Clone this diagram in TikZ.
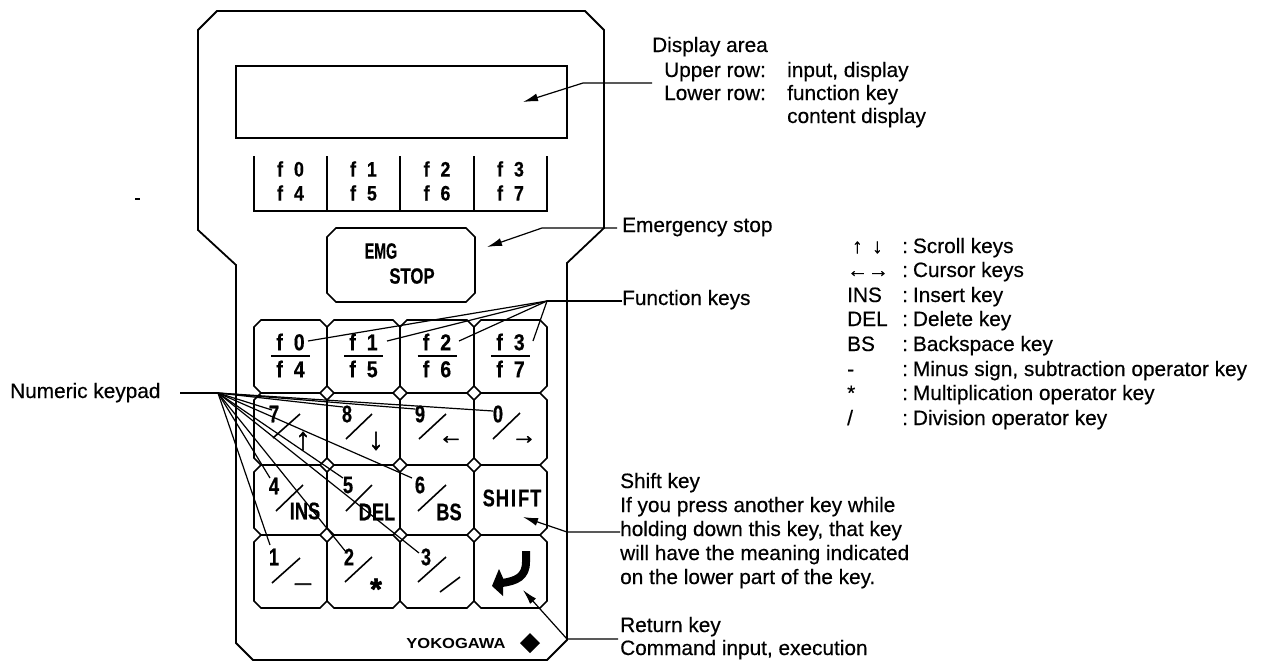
\documentclass[tikz,border=0pt]{standalone}
\usepackage{fontspec}
\setmainfont[FakeBold=0.4]{Liberation Sans}
\newfontfamily\keyfont[FakeStretch=0.76,FakeBold=0.5]{Liberation Sans Bold}
\newfontfamily\softfont[FakeStretch=0.85,FakeBold=0.5]{Liberation Sans Bold}
\newfontfamily\plainbold[FakeBold=2]{Liberation Sans Bold}
\newfontfamily\logofont[FakeStretch=1.14]{Liberation Sans Bold}
\usetikzlibrary{arrows.meta}
\newcommand{\chamferbox}[5]{\draw[keyline] (#1+#5,#2) -- (#3-#5,#2) -- (#3,#2+#5) -- (#3,#4-#5) -- (#3-#5,#4) -- (#1+#5,#4) -- (#1,#4-#5) -- (#1,#2+#5) -- cycle;}
\tikzset{
  x=1pt,y=-1pt,
  body/.style={line width=1.8pt,line join=miter},
  keyline/.style={line width=1.7pt},
  softtxt/.style={font=\softfont\fontsize{21}{21}\selectfont,inner sep=0pt},
  keytxt/.style={font=\keyfont\fontsize{24}{24}\selectfont,inner sep=0pt},
  arrowtxt/.style={font=\plainbold\fontsize{25}{25}\selectfont,inner sep=0pt},
  lbl/.style={font=\fontsize{20.8}{20.8}\selectfont,anchor=west,inner sep=0pt,text height=15pt,text depth=5pt},
  keyslash/.style={line width=1.6pt},
  leader/.style={line width=1.2pt},
  pointer/.style={line width=1.2pt,-{Latex[length=15pt,width=8pt]}},
}
\begin{document}
\begin{tikzpicture}
\useasboundingbox (0,0) rectangle (1262,662);
\fill[white] (0,0) rectangle (1262,662);
% housing
\draw[body] (217,11) -- (585,11) -- (604,30) -- (604,228) -- (567,263) -- (567,640) -- (547,660) -- (253,660) -- (236,643) -- (236,265) -- (198,230) -- (198,30) -- cycle;
\draw[keyline] (236,66) rectangle (567,138);
% soft key strip
\draw[keyline] (254,156) -- (254,211) -- (547,211) -- (547,156);
\foreach \x in {327,400,474} \draw[keyline] (\x,156) -- (\x,211);
\foreach \x/\a/\b/\n in {290.5/0/4/a,363.5/1/5/b,437/2/6/c,510.5/3/7/d}{
  \node[softtxt] (soft\n t) at (\x,169) {f\hspace{11pt}\a};
  \node[softtxt] (soft\n b) at (\x,193) {f\hspace{11pt}\b};
  \node[softtxt,font=\softfont\fontsize{23}{23}\selectfont] (fkey\n t) at (\x,342) {f\hspace{11pt}\a};
  \node[softtxt,font=\softfont\fontsize{23}{23}\selectfont] (fkey\n b) at (\x,369) {f\hspace{11pt}\b};
  \draw[keyline] (\x-19.5,356) -- (\x+19.5,356);
}
% emergency stop
\chamferbox{327}{228}{475}{302}{9}
\node[keytxt,font=\keyfont\fontsize{22}{22}\selectfont,xscale=0.85] (emgtxt) at (381,251) {EMG};
\node[keytxt,font=\keyfont\fontsize{22}{22}\selectfont] (stoptxt) at (412,276) {STOP};
% keys
\foreach \xa/\xb in {254/327,327/400,400/474,474/547}{
  \foreach \ya/\yb in {320/393,393/465,465/535,535/608}{
    \chamferbox{\xa}{\ya}{\xb}{\yb}{7}
  }
}
% digits and key legends
\foreach \x/\y/\t/\n in {274/414/7/d7,347/414/8/d8,420/414/9/d9,498/414/0/d0,274/486/4/d4,348/485/5/d5,420/485/6/d6,274/557/1/d1,349/557/2/d2,426/557/3/d3}{
  \node[keytxt] (\n) at (\x,\y) {\t};
}
\foreach \xa/\ya/\xb/\yb in {273/438/300/414,346/439/372/414,419/439/446/414,493/439/520/413,276/511/303/485,346/511/372/485,418/511/446/485,272/583/300/558,345/582/372/557,418/582/446/557,440/592/460/577}{
  \draw[keyslash] (\xa,\ya) -- (\xb,\yb);
}
\node[arrowtxt,font=\plainbold\fontsize{31}{31}\selectfont] (upk) at (303,441) {↑};
\node[arrowtxt,font=\plainbold\fontsize{31}{31}\selectfont] (downk) at (376,441) {↓};
\node[arrowtxt] (leftk) at (451,440) {←};
\node[arrowtxt] (rightk) at (524,440) {→};
\node[keytxt] (ins) at (305,511) {INS};
\node[keytxt] (del) at (377,512) {DEL};
\node[keytxt] (bs) at (449,512) {BS};
\node[keytxt] (shift) at (512,498) {S\hspace{1pt}H\hspace{2pt}I\hspace{2pt}F\hspace{1pt}T};
\node[arrowtxt,font=\plainbold\fontsize{28}{28}\selectfont] (minus) at (303,583) {\_};
\node[arrowtxt,font=\plainbold\fontsize{30}{30}\selectfont] (star) at (376,589) {*};
% return symbol
\draw[line width=8pt] (526,551) -- (526,562) .. controls (526,577) and (516,581) .. (502,583);
\fill (492,586) -- (499,569) -- (503,578) -- (503,588) -- (503,596) -- cycle;
% logo
\node[font=\logofont\fontsize{14.5}{14.5}\selectfont,inner sep=0pt] (logo) at (456,643) {YOKOGAWA};
\fill (530,633) -- (540,643) -- (530,653) -- (520,643) -- cycle;
% leaders
\node[lbl] (numeric) at (10,393) {Numeric keypad};
\coordinate (nstart) at (180,393);
\coordinate (nhub) at (218,393);
\draw[leader] (nstart) -- (nhub);
\coordinate (e1) at (270,545);
\coordinate (e2) at (346,552);
\coordinate (e3) at (419,553);
\coordinate (e4) at (270,478);
\coordinate (e5) at (343,478);
\coordinate (e6) at (412,478);
\coordinate (e7) at (272,410);
\coordinate (e8) at (343,407);
\coordinate (e9) at (415,409);
\coordinate (e0) at (493,411);
\foreach \n in {0,...,9} \draw[leader] (nhub) -- (e\n);
\node[lbl] (funcs) at (622,300) {Function keys};
\coordinate (fhub) at (547,301);
\coordinate (f0) at (308,341);
\coordinate (f1) at (387,341);
\coordinate (f2) at (459,341);
\coordinate (f3) at (533,341);
\draw[leader] (funcs.west) ++(0,1) -- (fhub);
\foreach \n in {0,...,3} \draw[leader] (fhub) -- (f\n);
% pointers
\node[lbl] (dt) at (652,47) {Display area};
\node[lbl] (du) at (664,72) {Upper row:};
\node[lbl] (di) at (787,72) {input, display};
\node[lbl] (dl) at (664,95) {Lower row:};
\node[lbl] (df) at (787,95) {function key};
\node[lbl] (dc) at (787,118) {content display};
\coordinate (dstart) at (652,83);
\coordinate (dbend) at (583,83);
\coordinate (dtip) at (523,102);
\draw[pointer] (dstart) -- (dbend) -- (dtip);
\node[lbl] (emgl) at (622,227) {Emergency stop};
\coordinate (ebend) at (542,228);
\coordinate (etip) at (487,247);
\draw[pointer] (emgl.west) ++(-5,1) -- (ebend) -- (etip);
\node[lbl] (s1) at (620,483) {Shift key};
\node[lbl] (s2) at (620,507) {If you press another key while};
\node[lbl] (s3) at (620,531) {holding down this key, that key};
\node[lbl] (s4) at (620,555) {will have the meaning indicated};
\node[lbl] (s5) at (620,579) {on the lower part of the key.};
\coordinate (sbend) at (567,532);
\coordinate (stip) at (523,517);
\draw[pointer] (s3.west) ++(0,1) -- (sbend) -- (stip);
\node[lbl] (r1) at (620,627) {Return key};
\node[lbl] (r2) at (620,650) {Command input, execution};
\coordinate (rstart) at (618,639);
\coordinate (rbend) at (567,639);
\coordinate (rtip) at (523,590);
\draw[pointer] (rstart) -- (rbend) -- (rtip);
% legend
\foreach \y/\sym/\txt/\n in {272/{←→}/Cursor keys/b,297/INS/Insert key/c,321/DEL/Delete key/d,346/BS/Backspace key/e,371/-/{Minus sign, subtraction operator key}/f,395/*/Multiplication operator key/g,420/{/}/Division operator key/h}{
  \node[lbl] (sym\n) at (847,\y) {\sym};
  \node[lbl] (txt\n) at (902,\y) {:\hspace{5pt}\txt};
}
\node[lbl] (up) at (852,248) {↑};
\node[lbl] (down) at (872,248) {↓};
\node[lbl] (txta) at (902,248) {:\hspace{5pt}Scroll keys};
% stray mark
\draw[line width=1.6pt] (135,199) -- (140,199);
\end{tikzpicture}
\end{document}
